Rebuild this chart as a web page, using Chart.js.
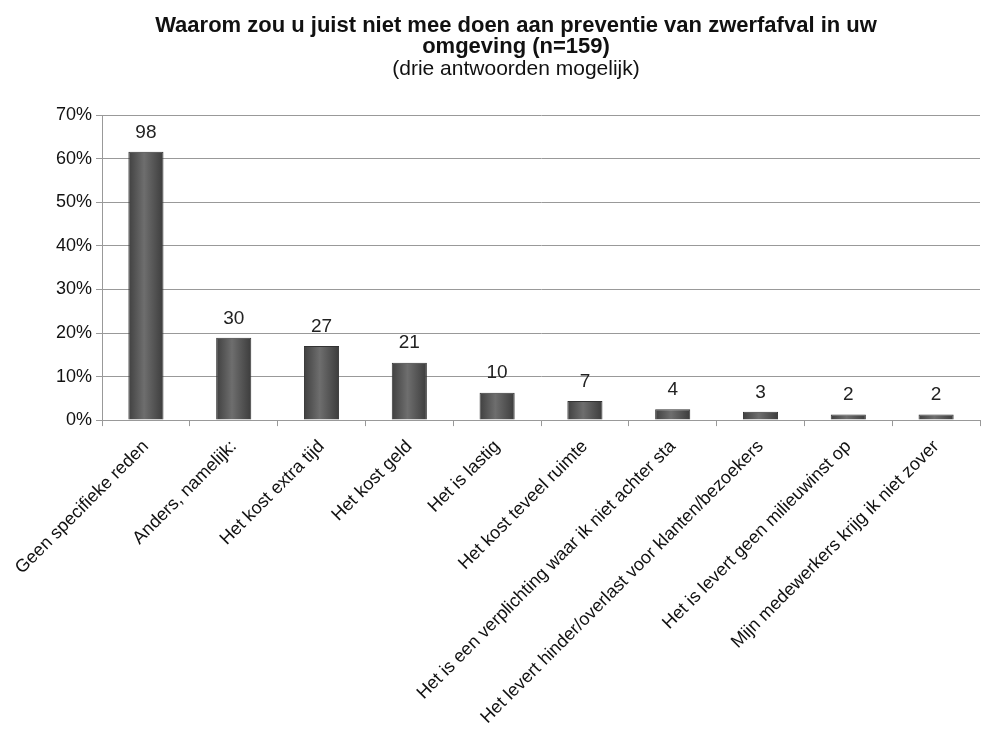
<!DOCTYPE html>
<html>
<head>
<meta charset="utf-8">
<script src="https://cdn.jsdelivr.net/npm/chart.js@4"></script>
<style>
  html, body { margin: 0; padding: 0; background: #ffffff; }
  #wrap { width: 981px; height: 738px; }
</style>
</head>
<body>
<div id="wrap"><canvas id="c" width="981" height="738"></canvas></div>
<script>
const categories = [
  "Geen specifieke reden",
  "Anders, namelijk:",
  "Het kost extra tijd",
  "Het kost geld",
  "Het is lastig",
  "Het kost teveel ruimte",
  "Het is een verplichting waar ik niet achter sta",
  "Het levert hinder/overlast voor klanten/bezoekers",
  "Het is levert geen milieuwinst op",
  "Mijn medewerkers krijg ik niet zover"
];
const percentages = [61.6, 18.9, 17.0, 13.2, 6.3, 4.4, 2.5, 1.9, 1.3, 1.3];
const counts = [98, 30, 27, 21, 10, 7, 4, 3, 2, 2];
const yTicks = [0, 10, 20, 30, 40, 50, 60, 70];
const titleLines = ["Waarom zou u juist niet mee doen aan preventie van zwerfafval in uw", "omgeving (n=159)"];
const subtitleText = "(drie antwoorden mogelijk)";

const FONT = "'Liberation Sans', Arial, sans-serif";

const barShading = {
  id: 'barShading',
  beforeDatasetsDraw(chart) {
    const ctx = chart.ctx;
    chart.getDatasetMeta(0).data.forEach(bar => {
      const x0 = bar.x - bar.width / 2, x1 = bar.x + bar.width / 2;
      const g = ctx.createLinearGradient(x0, 0, x1, 0);
      g.addColorStop(0, '#404040');
      g.addColorStop(0.45, '#6e6e6e');
      g.addColorStop(1, '#3c3c3c');
      bar.options.backgroundColor = g;
    });
  }
};

const countLabels = {
  id: 'countLabels',
  afterDatasetsDraw(chart) {
    const ctx = chart.ctx;
    const meta = chart.getDatasetMeta(0);
    ctx.save();
    ctx.font = "19px " + FONT;
    ctx.fillStyle = "#222";
    ctx.textAlign = "center";
    ctx.textBaseline = "bottom";
    meta.data.forEach((bar, i) => {
      ctx.fillText(String(counts[i]), bar.x, bar.y - 10);
    });
    ctx.restore();
  }
};

new Chart(document.getElementById('c'), {
  type: 'bar',
  data: {
    labels: categories,
    datasets: [{
      data: percentages,
      backgroundColor: () => '#555555',
      borderColor: '#333333',
      borderWidth: 1,
      categoryPercentage: 0.8,
      barPercentage: 0.5
    }]
  },
  options: {
    responsive: false,
    animation: false,
    devicePixelRatio: 1,
    layout: { padding: { left: 52, right: 1, top: 4, bottom: 0 } },
    plugins: {
      legend: { display: false },
      tooltip: { enabled: false },
      title: {
        display: true,
        text: titleLines,
        color: '#111',
        font: { family: FONT, size: 22, weight: 'bold', lineHeight: 0.96 },
        padding: { top: 11, bottom: 1 }
      },
      subtitle: {
        display: true,
        text: subtitleText,
        color: '#111',
        font: { family: FONT, size: 21, weight: 'normal', lineHeight: 1.05 },
        padding: { top: 0, bottom: 35 }
      }
    },
    scales: {
      x: {
        grid: { display: true, drawOnChartArea: false, offset: true, color: '#999', tickLength: 6 },
        border: { color: '#999' },
        ticks: {
          minRotation: 45,
          maxRotation: 45,
          autoSkip: false,
          color: '#111',
          font: { family: FONT, size: 18 },
          padding: 10
        }
      },
      y: {
        min: 0,
        max: 70,
        afterBuildTicks(axis) { axis.ticks = yTicks.map(v => ({ value: v })); },
        grid: { color: '#999', tickLength: 6 },
        border: { color: '#999' },
        ticks: {
          color: '#111',
          font: { family: FONT, size: 18 },
          padding: 4,
          callback: v => v + '%'
        }
      }
    }
  },
  plugins: [barShading, countLabels]
});
</script>
</body>
</html>
